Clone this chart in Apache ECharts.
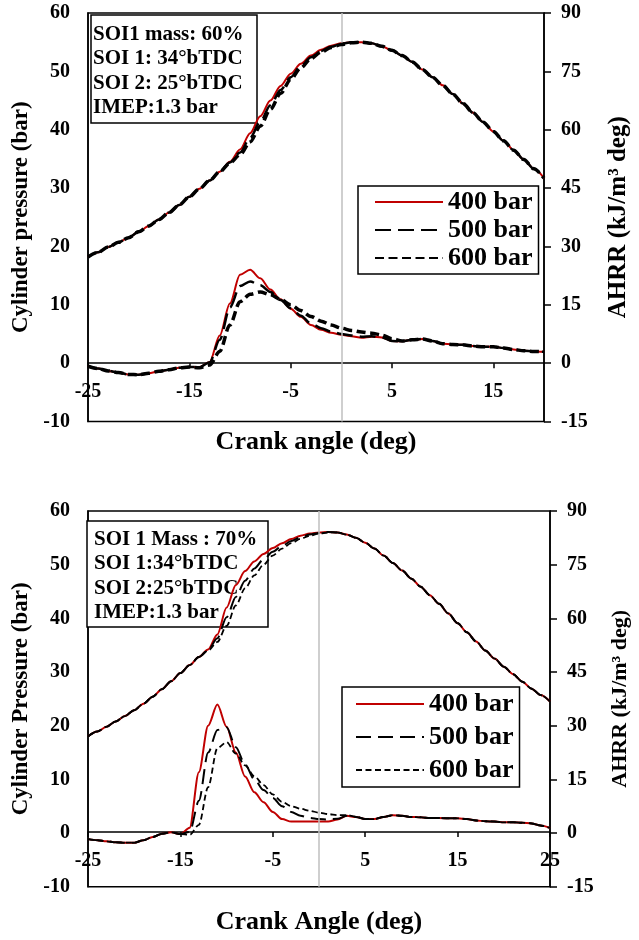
<!DOCTYPE html>
<html><head><meta charset="utf-8">
<script src="https://cdn.jsdelivr.net/npm/echarts@6/dist/echarts.min.js"></script>
<style>
html,body{margin:0;padding:0;background:#fff;}
#c1{position:absolute;left:0;top:0;width:639px;height:470px;}
#c2{position:absolute;left:0;top:470px;width:639px;height:470px;}
</style>
</head><body>
<div id="c1"></div><div id="c2"></div>
<script>
// ---------- DATA ----------
const seriesNames = ['400 bar', '500 bar', '600 bar'];

// Top chart: SOI1 mass 60%
const angleTop = [-25,-24,-23,-22,-21,-20,-19,-18,-17,-16,-15,-14,-13,-12,-11,-10,-9,-8,-7,-6,-5,-4,-3,-2,-1,0,1,2,3,4,5,6,7,8,9,10,11,12,13,14,15,16,17,18,19,20];
const xTicksTop = [-25,-15,-5,5,15];
const pressure400Top = [18.2,19.0,19.9,20.7,21.5,22.5,23.5,24.6,25.8,27.1, 28.5,29.9,31.3,32.8,34.5,36.6,39.4,42.3,45.0,47.5, 49.6,51.3,52.7,53.7,54.4,54.8,55.0,55.0,54.8,54.3, 53.6,52.7,51.6,50.3,49.0,47.6,46.1,44.5,42.9,41.3, 39.7,38.1,36.5,34.9,33.3,31.7];
const pressure500Top = [18.2,19.0,19.9,20.7,21.5,22.5,23.5,24.6,25.8,27.1, 28.5,29.9,31.3,32.8,34.4,36.1,38.6,41.4,44.2,46.8, 49.0,50.9,52.4,53.5,54.2,54.7,55.0,55.0,54.8,54.3, 53.6,52.7,51.6,50.3,49.0,47.6,46.1,44.5,42.9,41.3, 39.7,38.1,36.5,34.9,33.3,31.7];
const pressure600Top = [18.2,19.0,19.9,20.7,21.5,22.5,23.5,24.6,25.8,27.1, 28.5,29.9,31.3,32.8,34.3,35.7,37.9,40.6,43.5,46.2, 48.6,50.6,52.2,53.3,54.1,54.6,54.9,55.0,54.8,54.3, 53.6,52.7,51.6,50.3,49.0,47.6,46.1,44.5,42.9,41.3, 39.7,38.1,36.5,34.9,33.3,31.7];
const ahrr400Top = [-0.8,-1.4,-2.0,-2.4,-2.9,-3.0,-2.6,-2.1,-1.7,-1.2, -1.0,-1.0,0.3,7.1,15.3,22.7,24.0,21.8,18.9,16.4, 14.0,11.9,9.8,8.6,7.8,7.3,6.9,6.5,6.8,6.6, 5.7,5.6,6.0,6.2,5.7,5.0,4.8,4.7,4.4,4.2, 4.2,3.9,3.5,3.2,3.0,2.9];
const ahrr500Top = [-0.8,-1.4,-2.0,-2.4,-2.9,-3.0,-2.6,-2.1,-1.7,-1.2, -1.0,-1.0,0.2,6.0,14.3,19.8,21.0,20.0,18.3,16.2, 14.1,12.2,10.2,9.0,8.1,7.5,7.1,6.8,6.9,6.6, 5.7,5.6,6.0,6.2,5.7,5.0,4.8,4.7,4.4,4.2, 4.2,3.9,3.5,3.2,3.0,2.9];
const ahrr600Top = [-0.8,-1.4,-2.0,-2.4,-2.9,-3.0,-2.6,-2.1,-1.7,-1.2, -1.0,-1.2,-0.5,3.0,9.8,15.8,17.7,18.3,17.6,16.4, 15.0,13.5,12.0,10.8,9.8,9.0,8.4,8.0,7.7,7.2, 6.3,5.7,6.0,6.2,5.7,5.0,4.8,4.7,4.4,4.2, 4.2,3.9,3.5,3.2,3.0,2.9];
const noteTop = ['SOI1 mass: 60%', 'SOI 1: 34°bTDC', 'SOI 2: 25°bTDC', 'IMEP:1.3 bar'];

// Bottom chart: SOI1 mass 70%
const angleBottom = [-25,-24,-23,-22,-21,-20,-19,-18,-17,-16,-15,-14,-13,-12,-11,-10,-9,-8,-7,-6,-5,-4,-3,-2,-1,0,1,2,3,4,5,6,7,8,9,10,11,12,13,14,15,16,17,18,19,20,21,22,23,24,25];
const xTicksBottom = [-25,-15,-5,5,15,25];
const pressure400Bottom = [18.0,18.9,19.8,20.8,21.8,22.9,24.1,25.4,26.8,28.3, 29.8,31.3,32.8,34.2,37.0,42.0,46.2,48.8,50.6,52.0, 53.1,54.0,54.8,55.4,55.8,56.0,56.1,56.0,55.6,55.0, 54.1,53.0,51.7,50.3,48.9,47.4,45.9,44.3,42.7,40.9, 39.1,37.4,35.7,34.0,32.5,31.0,29.6,28.2,26.9,25.7, 24.5];
const pressure500Bottom = [18.0,18.9,19.8,20.8,21.8,22.9,24.1,25.4,26.8,28.3, 29.8,31.3,32.8,34.1,36.3,40.2,44.0,47.0,49.3,51.0, 52.4,53.5,54.4,55.1,55.6,55.9,56.1,56.0,55.6,55.0, 54.1,53.0,51.7,50.3,48.9,47.4,45.9,44.3,42.7,40.9, 39.1,37.4,35.7,34.0,32.5,31.0,29.6,28.2,26.9,25.7, 24.5];
const pressure600Bottom = [18.0,18.9,19.8,20.8,21.8,22.9,24.1,25.4,26.8,28.3, 29.8,31.3,32.8,34.0,35.6,38.6,42.4,45.6,48.0,50.0, 51.7,53.0,54.0,54.8,55.4,55.8,56.0,56.0,55.6,55.0, 54.1,53.0,51.7,50.3,48.9,47.4,45.9,44.3,42.7,40.9, 39.1,37.4,35.7,34.0,32.5,31.0,29.6,28.2,26.9,25.7, 24.5];
const ahrr400Bottom = [-1.7,-2.0,-2.3,-2.6,-2.7,-2.7,-2.0,-1.1,-0.2,0.2, -0.3,1.5,17.0,30.0,35.9,29.7,22.5,15.8,11.4,8.6, 5.9,3.9,3.2,3.2,3.2,3.2,3.2,3.8,4.8,4.5, 3.9,3.9,4.5,5.0,4.8,4.5,4.4,4.2,4.2,4.1, 4.1,3.9,3.5,3.3,3.2,3.0,3.0,2.9,2.7,2.1, 1.4];
const ahrr500Bottom = [-1.7,-2.0,-2.3,-2.6,-2.7,-2.7,-2.0,-1.1,-0.2,0.2, -0.3,0.3,9.0,22.5,28.8,29.6,24.0,19.2,15.0,12.0, 9.8,7.5,5.9,4.8,4.2,3.9,3.8,4.0,4.8,4.5, 3.9,3.9,4.5,5.0,4.8,4.5,4.4,4.2,4.2,4.1, 4.1,3.9,3.5,3.3,3.2,3.0,3.0,2.9,2.7,2.1, 1.4];
const ahrr600Bottom = [-1.7,-2.0,-2.3,-2.6,-2.7,-2.7,-2.0,-1.1,-0.2,0.2, -0.3,-0.5,2.3,12.8,23.7,25.4,22.2,18.9,15.9,13.4, 10.8,8.7,7.5,6.8,6.2,5.7,5.3,5.0,5.0,4.6, 3.9,3.9,4.5,5.0,4.8,4.5,4.4,4.2,4.2,4.1, 4.1,3.9,3.5,3.3,3.2,3.0,3.0,2.9,2.7,2.1, 1.4];
const noteBottom = ['SOI 1 Mass : 70%', 'SOI 1:34°bTDC', 'SOI 2:25°bTDC', 'IMEP:1.3 bar'];

// ---------- BUILD ----------
const FONT = '"Liberation Serif","Times New Roman",serif';
const txt = (size) => ({fontFamily: FONT, fontWeight: 'bold', fontSize: size, color: '#000'});

function makeOption(c) {
  const pair = (ys) => c.angles.map((a, i) => [a, ys[i]]);
  const series = [];
  seriesNames.forEach((n, k) => {
    const ls = Object.assign({}, c.lineStyles[k]);
    const common = {name: n, type: 'line', smooth: 0.3, smoothMonotone: 'x', symbol: 'none', showSymbol: false,
      lineStyle: ls, itemStyle: {color: ls.color}, z: 3 + k, animation: false};
    series.push(Object.assign({yAxisIndex: 0, data: pair(c.pressure[k])}, common));
    series.push(Object.assign({yAxisIndex: 1, data: pair(c.ahrr[k])}, common));
  });
  series[0].markLine = {silent: true, symbol: 'none', label: {show: false}, animation: false,
    lineStyle: {color: '#bfbfbf', width: 1.5, type: 'solid'}, data: [{xAxis: 0}]};
  // position of the y = 0 line measured up from the grid bottom (layout only)
  const gridH = c.height - c.grid.top - c.grid.bottom;
  const zeroOffset = -gridH * 10 / 70;
  return {
    animation: false,
    backgroundColor: '#fff',
    grid: Object.assign({show: true, borderColor: '#000', borderWidth: 1.5, backgroundColor: 'transparent', containLabel: false}, c.grid),
    xAxis: {
      type: 'value', min: -25, max: c.xmax, offset: zeroOffset,
      axisLine: {onZero: false, lineStyle: {color: '#000', width: 1.5}},
      axisTick: {show: true, customValues: c.xticks, length: 5, lineStyle: {color: '#000', width: 1.5}},
      axisLabel: Object.assign({customValues: c.xticks, margin: 19}, txt(20)),
      splitLine: {show: false},
      name: c.xName, nameLocation: 'middle', nameGap: c.xNameGap, nameTextStyle: txt(26)
    },
    yAxis: [
      {type: 'value', min: -10, max: 60, interval: 10,
       axisLine: {show: true, onZero: false, lineStyle: {color: '#000', width: 1.5}},
       axisTick: {show: false},
       axisLabel: Object.assign({margin: 18}, txt(20)),
       splitLine: {show: false},
       name: c.yName, nameLocation: 'middle', nameGap: 54, nameTextStyle: txt(23)},
      {type: 'value', position: 'right', min: -15, max: 90, interval: 15,
       axisLine: {show: true, onZero: false, lineStyle: {color: '#000', width: 1.5}},
       axisTick: {show: true, inside: false, length: 7, lineStyle: {color: '#000', width: 1.5}},
       axisLabel: Object.assign({margin: 17}, txt(20)),
       splitLine: {show: false},
       name: 'AHRR (kJ/m³ deg)', nameLocation: 'middle', nameRotate: 90, nameGap: c.y2NameGap, nameTextStyle: txt(c.y2NameSize)}
    ],
    legend: Object.assign({
      data: seriesNames, orient: 'vertical', selectedMode: false,
      itemWidth: 68, itemHeight: 14,
      itemStyle: {opacity: 0},
      backgroundColor: '#fff', borderColor: '#000', borderWidth: 1.5,
      textStyle: txt(25)
    }, c.legend),
    graphic: [
      {type: 'rect', z: 1, shape: c.noteBox, style: {fill: '#fff', stroke: '#000', lineWidth: 1.5}},
      {type: 'text', z: 1, x: c.noteText.x, y: c.noteText.y,
       style: {text: c.note.join('\n'), font: 'bold 21px ' + FONT, fill: '#000', lineHeight: 24.5}}
    ],
    series: series
  };
}

const chartTop = echarts.init(document.getElementById('c1'), null, {renderer: 'canvas'});
chartTop.setOption(makeOption({
  height: 470,
  angles: angleTop, xmax: 20, xticks: xTicksTop,
  pressure: [pressure400Top, pressure500Top, pressure600Top],
  ahrr: [ahrr400Top, ahrr500Top, ahrr600Top],
  lineStyles: [
    {color: '#C00000', width: 2, type: 'solid'},
    {color: '#000', width: 2.5, type: [16, 7]},
    {color: '#000', width: 3.5, type: [9, 4.5]}
  ],
  grid: {left: 88, right: 84, top: 13, bottom: 48.5},
  xName: 'Crank angle (deg)', xNameGap: 66,
  yName: 'Cylinder pressure (bar)', y2NameGap: 62, y2NameSize: 25,
  legend: {left: 358, top: 186, itemGap: 2, padding: [3, 6, 3, 16], textStyle: Object.assign(txt(26), {lineHeight: 26})},
  noteBox: {x: 91, y: 15, width: 166, height: 108},
  noteText: {x: 93, y: 22},
  note: noteTop
}));

const chartBottom = echarts.init(document.getElementById('c2'), null, {renderer: 'canvas'});
chartBottom.setOption(makeOption({
  height: 470,
  angles: angleBottom, xmax: 25, xticks: xTicksBottom,
  pressure: [pressure400Bottom, pressure500Bottom, pressure600Bottom],
  ahrr: [ahrr400Bottom, ahrr500Bottom, ahrr600Bottom],
  lineStyles: [
    {color: '#C00000', width: 2, type: 'solid'},
    {color: '#000', width: 2, type: [15, 7]},
    {color: '#000', width: 1.8, type: [6, 3.5]}
  ],
  grid: {left: 88, right: 75, top: 41, bottom: 46},
  xName: 'Crank Angle (deg)', xNameGap: 77,
  yName: 'Cylinder Pressure (bar)', y2NameGap: 59, y2NameSize: 22,
  legend: {left: 342, top: 217, itemGap: 5, padding: [3, 6, 3, 13], textStyle: Object.assign(txt(26), {lineHeight: 28})},
  noteBox: {x: 87, y: 51, width: 181, height: 106},
  noteText: {x: 94, y: 57},
  note: noteBottom
}));
</script>
</body></html>
